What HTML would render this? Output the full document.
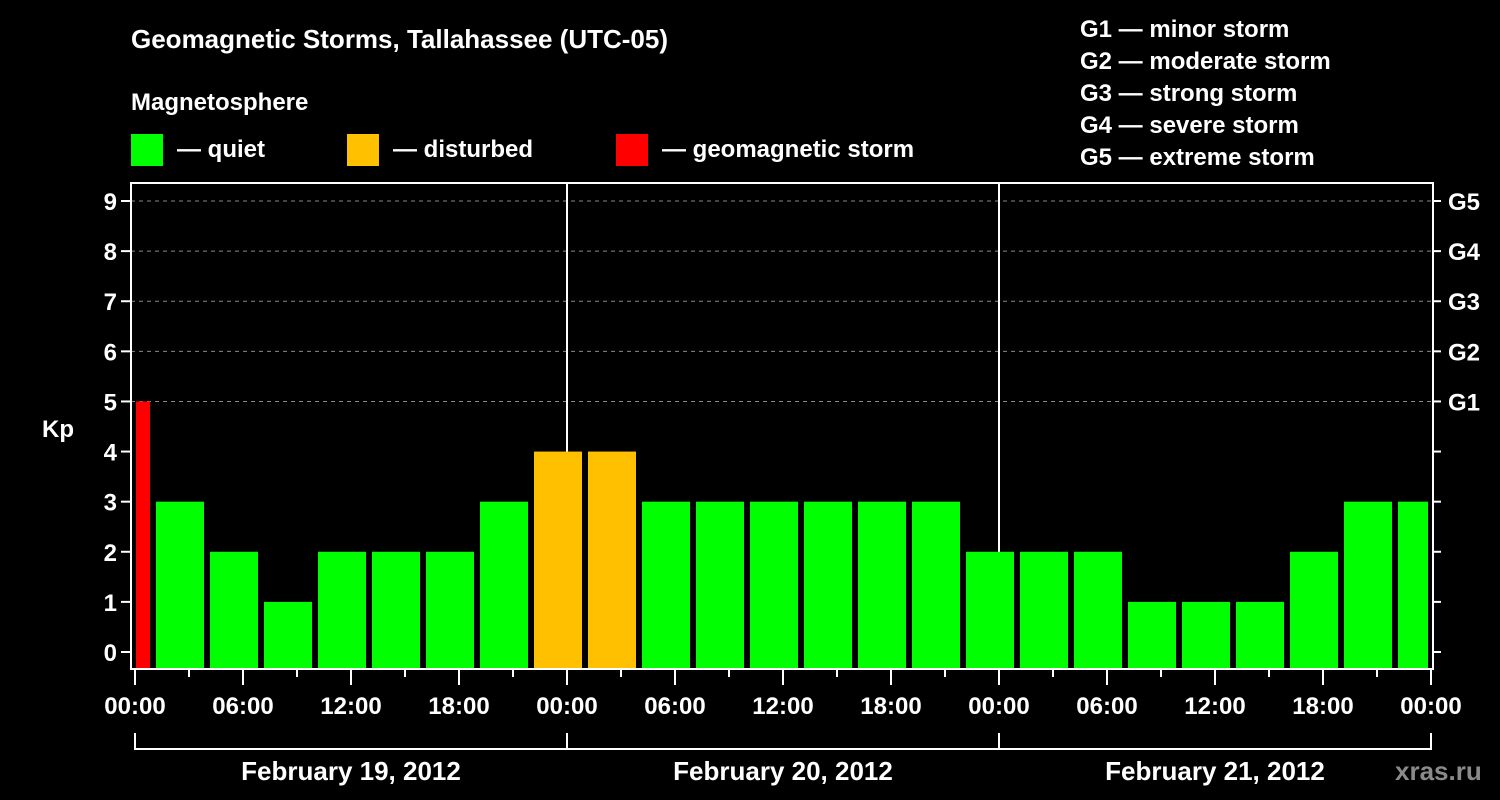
<!DOCTYPE html>
<html><head><meta charset="utf-8"><style>
html,body{margin:0;padding:0;background:#000;width:1500px;height:800px;overflow:hidden}
svg text{font-family:"Liberation Sans",Arial,sans-serif;font-weight:bold;fill:#fff}
</style></head><body>
<svg id="chart" width="1500" height="800" xmlns="http://www.w3.org/2000/svg">
<text x="131" y="48" font-size="26">Geomagnetic Storms, Tallahassee (UTC-05)</text>
<text x="131" y="110" font-size="24">Magnetosphere</text>
<g><rect x="131" y="134" width="32" height="32" fill="#00ff00"/><text x="177" y="157" font-size="24">— quiet</text></g>
<g><rect x="347" y="134" width="32" height="32" fill="#ffc000"/><text x="393" y="157" font-size="24">— disturbed</text></g>
<g><rect x="616" y="134" width="32" height="32" fill="#ff0000"/><text x="662" y="157" font-size="24">— geomagnetic storm</text></g>
<g font-size="24">
<text x="1080" y="37">G1 — minor storm</text>
<text x="1080" y="69">G2 — moderate storm</text>
<text x="1080" y="101">G3 — strong storm</text>
<text x="1080" y="133">G4 — severe storm</text>
<text x="1080" y="165">G5 — extreme storm</text>
</g>
<g id="plot"></g>
<text x="1395" y="780" font-size="26" fill="#888" style="fill:#8a8a8a">xras.ru</text>
</svg>
<script>
const kpValues=[5,3,2,1,2,2,2,3,4,4,3,3,3,3,3,3,2,2,2,1,1,1,2,3,3];
const blockStartHours=[-2,1,4,7,10,13,16,19,22,25,28,31,34,37,40,43,46,49,52,55,58,61,64,67,70];
const yTicks=[0,1,2,3,4,5,6,7,8,9];
const gLabels=["G1","G2","G3","G4","G5"];
const xTickLabels=["00:00","06:00","12:00","18:00","00:00","06:00","12:00","18:00","00:00","06:00","12:00","18:00","00:00"];
const dayLabels=["February 19, 2012","February 20, 2012","February 21, 2012"];
const NS="http://www.w3.org/2000/svg";
const L=131,R=1433,T=183,B=669;
const x=h=>135+18*h;
const y=v=>652-50.11*v;
const g=document.getElementById('plot');
function mk(tag,at,parent){const e=document.createElementNS(NS,tag);for(const k in at)e.setAttribute(k,at[k]);(parent||g).appendChild(e);return e;}
// grid
for(let v=5;v<=9;v++){const l=mk('line',{x1:L,x2:R,y1:y(v),y2:y(v),stroke:'#888','stroke-dasharray':'4,4','stroke-width':1});

}
// day lines
for(let d=1;d<3;d++){const l=mk('line',{x1:x(24*d),x2:x(24*d),y1:T,y2:B,stroke:'#fff','stroke-width':2});

}
// bars
kpValues.forEach((v,i)=>{
 const s=Math.max(0,blockStartHours[i]),e=Math.min(72,blockStartHours[i]+3);
 const x0=x(s)+(s===0?1:3),x1=x(e)-(e===72?3:3);
 const c=v>=5?'#ff0000':(v>=4?'#ffc000':'#00ff00');
 const r=mk('rect',{x:x0,y:y(v),width:x1-x0,height:B-y(v),fill:c});
 
 
});
// frame
const f=mk('rect',{x:L,y:T,width:R-L,height:B-T,fill:'none',stroke:'#fff','stroke-width':2});


// y ticks
yTicks.forEach(v=>{
 mk('line',{x1:L-10,x2:L,y1:y(v),y2:y(v),stroke:'#fff','stroke-width':2});
 mk('line',{x1:R,x2:R+8,y1:y(v),y2:y(v),stroke:'#fff','stroke-width':2});
 const t=mk('text',{x:L-14,y:y(v)+9,'font-size':24,'text-anchor':'end'});t.textContent=v;
 
 
});
gLabels.forEach((s,i)=>{const t=mk('text',{x:1448,y:y(5+i)+9,'font-size':24});t.textContent=s;
 
 });
const yt=mk('text',{x:42,y:437,'font-size':24});yt.textContent='Kp';


// x ticks
for(let h=0;h<=72;h+=3){mk('line',{x1:x(h),x2:x(h),y1:B,y2:h%6===0?B+16:B+8,stroke:'#fff','stroke-width':2});}
xTickLabels.forEach((s,i)=>{const t=mk('text',{x:x(6*i),y:714,'font-size':24,'text-anchor':'middle'});t.textContent=s;
 
 });
mk('line',{x1:x(0),x2:x(72),y1:749,y2:749,stroke:'#fff','stroke-width':2});
for(let d=0;d<=3;d++)mk('line',{x1:x(24*d),x2:x(24*d),y1:733,y2:750,stroke:'#fff','stroke-width':2});
dayLabels.forEach((s,i)=>{const t=mk('text',{x:x(24*i+12),y:780,'font-size':26,'text-anchor':'middle'});t.textContent=s;
 
 });
</script>
</body></html>
